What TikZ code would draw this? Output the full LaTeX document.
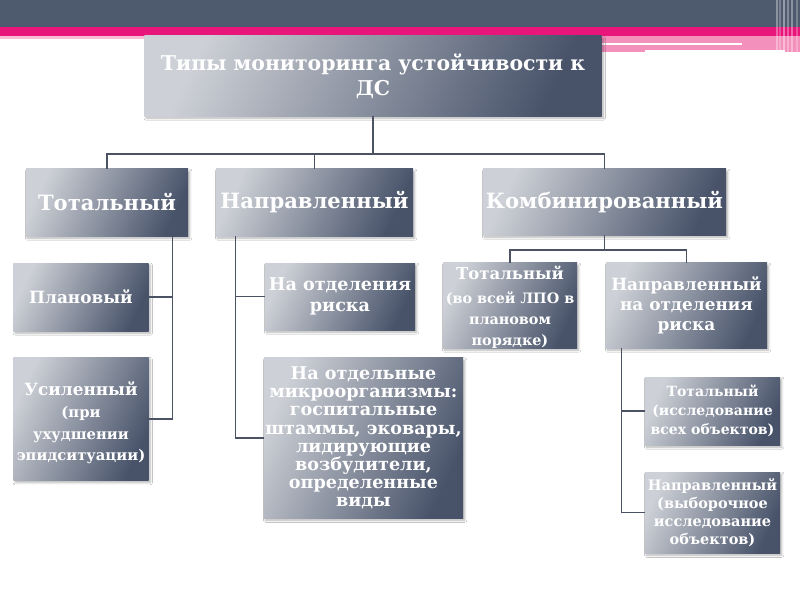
\documentclass[tikz,border=0pt]{standalone}
\usepackage{fontspec}
\setmainfont{DejaVu Serif}
\usetikzlibrary{calc,shadows.blur}
\definecolor{barDark}{HTML}{4E5A6D}
\definecolor{barPink}{HTML}{E8157A}
\definecolor{lightPink}{HTML}{F490BC}
\definecolor{boxLight}{HTML}{CDD0D6}
\definecolor{boxDark}{HTML}{48536A}
\definecolor{lineCol}{HTML}{4A5263}
\tikzset{
  box/.style={rectangle, inner sep=1pt, align=center, text=white,
    font=\bfseries, top color=boxLight, bottom color=boxDark, shading angle=65,
    blur shadow={shadow xshift=1.2pt, shadow yshift=-1.5pt, shadow blur radius=1.5pt, shadow blur steps=5, shadow opacity=30}},
  boxtext/.style={inner sep=0pt, align=center, text=white},
  conn/.style={draw=lineCol, line width=1.1pt},
}
\newcommand{\fs}[2]{\fontsize{#1}{#2}\selectfont}
\begin{document}
\begin{tikzpicture}[x=0.025cm,y=-0.025cm]
\useasboundingbox (0,0) rectangle (800,600);
\fill[white] (0,0) rectangle (800,600);
% header
\fill[barDark] (0,0) rectangle (800,27);
\fill[barPink] (0,27) rectangle (800,36);
\fill[lightPink!60] (0,36) rectangle (800,39);
\fill[lightPink] (590,36) rectangle (800,52);
\fill[white] (600,42.5) rectangle (742,45);
\fill[white] (645,50) rectangle (785,53);
\foreach \xx/\oo in {776/0.35,779/0.25,783/0.4,787/0.3,791/0.35,796/0.25}
  \fill[white,opacity=\oo] (\xx,0) rectangle (\xx+1.5,55);
% boxes
\node[box,font=\bfseries\fs{14.5}{17.5},minimum width=11.425cm,minimum height=2.0cm] (root) at (373,76) {Типы мониторинга устойчивости к\\ДС};
\node[box,font=\bfseries\fs{15}{17},minimum width=4.05cm,minimum height=1.675cm] (tot1) at (107,202.5) {Тотальный};
\node[box,font=\bfseries\fs{15}{17},minimum width=4.925cm,minimum height=1.675cm] (napr1) at (314.5,202.5) {Направленный};
\node[box,font=\bfseries\fs{15}{17},minimum width=6.075cm,minimum height=1.65cm] (komb) at (604.5,202) {Комбинированный};
\node[box,font=\bfseries\fs{12}{14},minimum width=3.375cm,minimum height=1.7cm] (plan) at (81,297) {Плановый};
\node[box,minimum width=3.375cm,minimum height=3.075cm] (usil) at (81,419) {};
\node[boxtext,font=\bfseries\fs{12}{15.5}] at ($(usil.center)+(0,4)$) {Усиленный\\{\fs{10.5}{13}(при}\\{\fs{10.5}{13}ухудшении}\\{\fs{10.5}{13}эпидситуации)}};
\node[box,font=\bfseries\fs{12.5}{14.5},minimum width=3.75cm,minimum height=1.675cm] (otd) at (340,296.5) {На отделения\\риска};
\node[box,font=\bfseries\fs{12.5}{12.9},minimum width=4.925cm,minimum height=4.0cm] (mikro) at (363.5,438) {На отдельные\\микроорганизмы:\\госпитальные\\штаммы, эковары,\\лидирующие\\возбудители,\\определенные\\виды};
\node[box,minimum width=3.35cm,minimum height=2.125cm] (ktot) at (510,305.5) {};
\node[boxtext,font=\bfseries\fs{11.7}{15}] at ($(ktot.center)+(0,2)$) {Тотальный\\[2pt]{\fs{10.2}{11.8}(во всей ЛПО в}\\{\fs{10.2}{11.8}плановом}\\{\fs{10.2}{11.8}порядке)}};
\node[box,font=\bfseries\fs{12}{14},minimum width=4.025cm,minimum height=2.125cm] (knapr) at (686.5,305.5) {Направленный\\на отделения\\риска};
\node[box,font=\bfseries\fs{10}{13.5},minimum width=3.375cm,minimum height=1.7cm] (issl) at (712.5,411) {Тотальный\\(исследование\\всех объектов)};
\node[box,font=\bfseries\fs{10.3}{12.8},minimum width=3.375cm,minimum height=2.025cm] (vyb) at (712.5,512.5) {Направленный\\(выборочное\\исследование\\объектов)};
% connectors
\coordinate (bus) at (0,154);
\coordinate (kbus) at (0,250);
\draw[conn] (root.south) -- (root.south |- bus);
\draw[conn] (tot1.north) -- (tot1.north |- bus) -| (komb.north);
\draw[conn] (napr1.north) -- (napr1.north |- bus);
\coordinate (t1) at ($(tot1.south east)+(-16,0)$);
\draw[conn] (t1) |- (plan.east);
\draw[conn] (t1) |- (usil.east);
\coordinate (n1) at ($(napr1.south west)+(20,0)$);
\draw[conn] (n1) |- (otd.west);
\draw[conn] (n1) |- (mikro.west);
\draw[conn] (komb.south) -- (komb.south |- kbus);
\draw[conn] (ktot.north) -- (ktot.north |- kbus) -| (knapr.north);
\coordinate (k1) at ($(knapr.south west)+(16,0)$);
\draw[conn] (k1) |- (issl.west);
\draw[conn] (k1) |- (vyb.west);
\end{tikzpicture}
\end{document}
